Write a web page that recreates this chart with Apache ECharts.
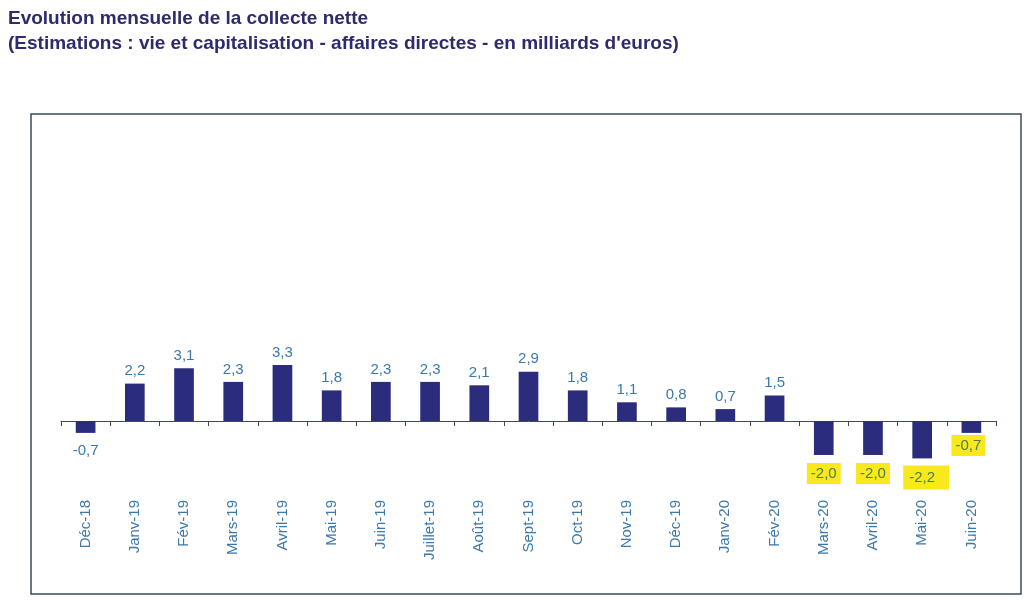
<!DOCTYPE html>
<html>
<head>
<meta charset="utf-8">
<script src="https://cdn.jsdelivr.net/npm/echarts@6/dist/echarts.min.js"></script>
<style>
html,body{margin:0;padding:0;background:#fff;}
#c{width:1032px;height:602px;}
</style>
</head>
<body>
<div id="c"></div>
<script>
var categories = ['Déc-18','Janv-19','Fév-19','Mars-19','Avril-19','Mai-19','Juin-19','Juillet-19','Août-19','Sept-19','Oct-19','Nov-19','Déc-19','Janv-20','Fév-20','Mars-20','Avril-20','Mai-20','Juin-20'];
var values = [-0.7, 2.2, 3.1, 2.3, 3.3, 1.8, 2.3, 2.3, 2.1, 2.9, 1.8, 1.1, 0.8, 0.7, 1.5, -2.0, -2.0, -2.2, -0.7];
var highlighted = ['Mars-20','Avril-20','Mai-20','Juin-20'];
var titleLines = ['Evolution mensuelle de la collecte nette', "(Estimations : vie et capitalisation - affaires directes - en milliards d'euros)"];

var labelColor = '#3b78ad';
function fmt(v){ return v.toFixed(1).replace('.', ','); }

var data = values.map(function(v, i){
  var item = { value: v };
  var hl = highlighted.indexOf(categories[i]) >= 0;
  if (v < 0) {
    item.label = { position: 'bottom', distance: 10 };
  }
  if (hl) {
    var cat = categories[i];
    var lab = {
      position: 'bottom',
      backgroundColor: '#f8e81c',
      color: '#4d7a55',
      padding: [3, 4, 3, 4],
      distance: 8
    };
    if (cat === 'Mai-20') { lab.padding = [5, 14, 4, 6]; lab.distance = 7; lab.offset = [4, 0]; }
    if (cat === 'Juin-20') { lab.distance = 2; lab.offset = [-3, 0]; }
    item.label = lab;
  }
  return item;
});

var chart = echarts.init(document.getElementById('c'), null, { renderer: 'canvas' });
chart.setOption({
  animation: false,
  backgroundColor: '#ffffff',
  title: {
    text: titleLines.join('\n'),
    left: 3, top: 1,
    textStyle: { fontFamily: 'Arial, "Liberation Sans", sans-serif', fontSize: 19, fontWeight: 'bold', color: '#2d2a6e', lineHeight: 25 }
  },
  graphic: [{
    type: 'rect',
    shape: { x: 31, y: 114, width: 990, height: 480 },
    style: { fill: 'none', stroke: '#3d4b5e', lineWidth: 1.5 },
    silent: true, z: 0
  }],
  grid: { left: 61, right: 36, top: 319, bottom: 113, outerBoundsMode: 'none', containLabel: false },
  xAxis: {
    type: 'category',
    data: categories,
    axisLine: { onZero: true, lineStyle: { color: '#3d4b5e', width: 1 } },
    axisTick: { show: true, length: 5, lineStyle: { color: '#3d4b5e' } },
    axisLabel: { rotate: 90, margin: 11, color: labelColor, fontSize: 15, fontFamily: 'Arial, "Liberation Sans", sans-serif' }
  },
  yAxis: {
    type: 'value', min: -4, max: 6, interval: 2,
    show: false,
    splitLine: { show: false }
  },
  series: [{
    type: 'bar',
    data: data,
    barWidth: '40%',
    itemStyle: { color: '#2b2d7c' },
    label: {
      show: true,
      position: 'top',
      distance: 5,
      color: labelColor,
      fontSize: 15,
      fontFamily: 'Arial, "Liberation Sans", sans-serif',
      formatter: function(p){ return fmt(p.value); }
    }
  }]
});
</script>
</body>
</html>
